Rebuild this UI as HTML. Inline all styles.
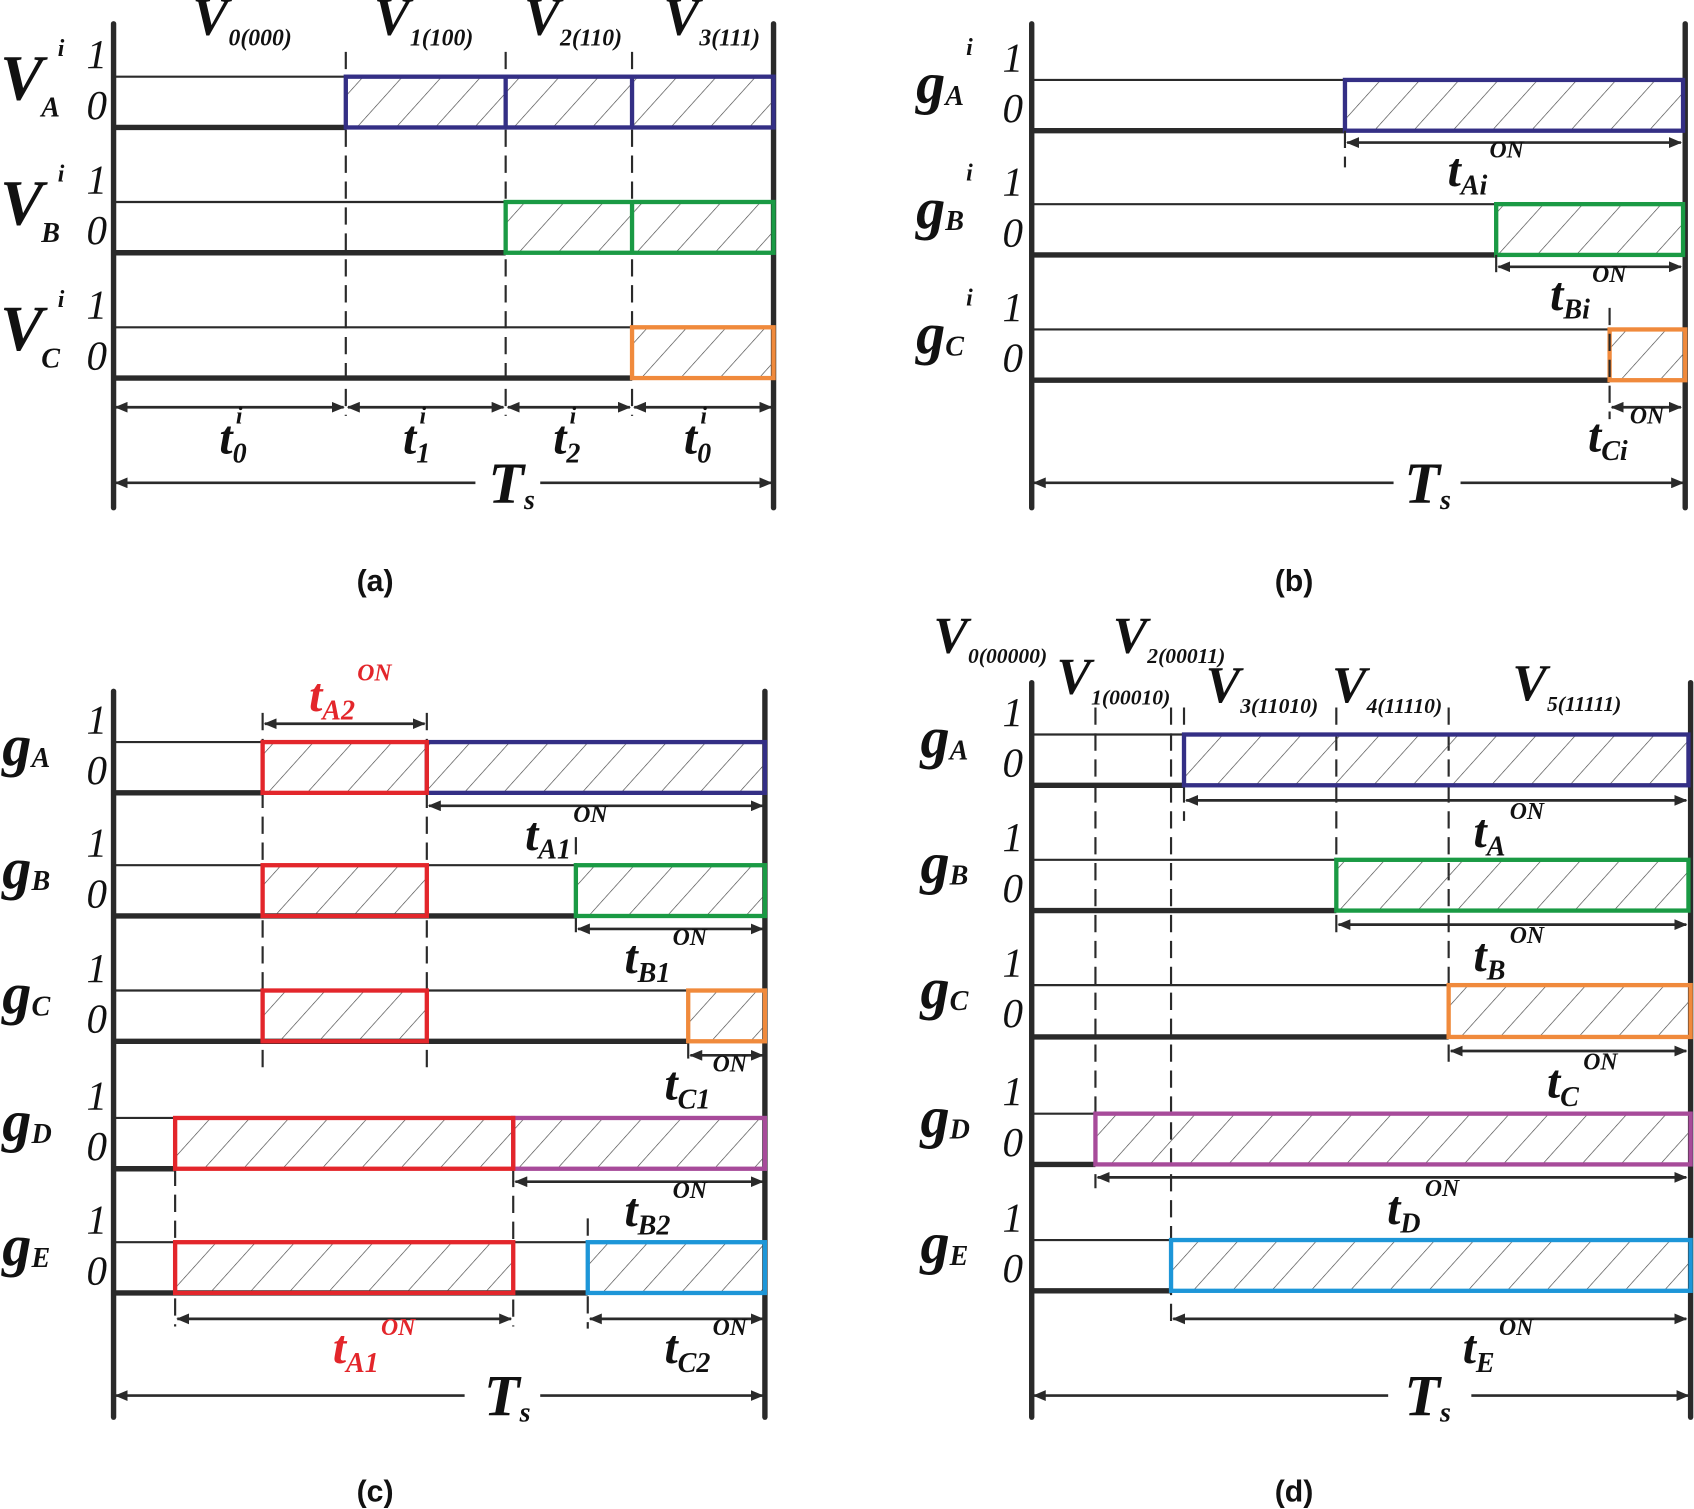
<!DOCTYPE html>
<html><head><meta charset="utf-8"><style>
html,body{margin:0;padding:0;background:#fff}
svg{display:block}
text{font-family:"Liberation Serif",serif;font-style:italic;font-weight:bold;fill:#111}
.n{font-weight:normal;font-size:38px}
.big{font-size:54px}
.vv{font-size:60px}
.sub{font-size:26px}
.sup{font-size:22px}
.cap{font-family:"Liberation Sans",sans-serif;font-style:normal;font-weight:bold;font-size:28px}
.ax{stroke:#2a2a2a;stroke-width:5;stroke-linecap:round}
.hi{stroke:#2a2a2a;stroke-width:2}
.lo{stroke:#2a2a2a;stroke-width:5}
.ds{stroke:#2a2a2a;stroke-width:2;stroke-dasharray:16,8}
.ar{stroke:#2a2a2a;stroke-width:2.5;marker-start:url(#ms);marker-end:url(#me)}
.bx{fill:url(#h);stroke-width:4}
</style></head><body>
<svg width="1694" height="1509" viewBox="0 0 1568 1397" xmlns="http://www.w3.org/2000/svg">
<defs>
<pattern id="h" patternUnits="userSpaceOnUse" width="27" height="27" patternTransform="rotate(42)"><line x1="0" y1="0" x2="0" y2="27" stroke="#444" stroke-width="1.2"/></pattern>
<marker id="me" markerWidth="12" markerHeight="10" refX="11" refY="5" orient="auto" markerUnits="userSpaceOnUse"><path d="M0,0 L12,5 L0,10 z" fill="#2a2a2a"/></marker>
<marker id="ms" markerWidth="12" markerHeight="10" refX="1" refY="5" orient="auto" markerUnits="userSpaceOnUse"><path d="M12,0 L0,5 L12,10 z" fill="#2a2a2a"/></marker>
</defs>

<!-- ===== (a) ===== -->
<line class="ax" x1="105" y1="22" x2="105" y2="470"/><line class="ax" x1="716" y1="22" x2="716" y2="470"/>
<line class="ds" x1="320" y1="48" x2="320" y2="385"/><line class="ds" x1="468" y1="48" x2="468" y2="385"/><line class="ds" x1="585" y1="48" x2="585" y2="385"/>
<line class="hi" x1="105" y1="71" x2="320" y2="71"/><line class="lo" x1="105" y1="118" x2="320" y2="118"/>
<rect class="bx" x="320" y="71" width="396" height="47" stroke="#342f85"/><line x1="468" y1="71" x2="468" y2="118" stroke="#342f85" stroke-width="4"/><line x1="585" y1="71" x2="585" y2="118" stroke="#342f85" stroke-width="4"/>
<line class="hi" x1="105" y1="187" x2="468" y2="187"/><line class="lo" x1="105" y1="234" x2="468" y2="234"/>
<rect class="bx" x="468" y="187" width="248" height="47" stroke="#1a9a44"/><line x1="585" y1="187" x2="585" y2="234" stroke="#1a9a44" stroke-width="4"/>
<line class="hi" x1="105" y1="303" x2="585" y2="303"/><line class="lo" x1="105" y1="350" x2="585" y2="350"/>
<rect class="bx" x="585" y="303" width="131" height="47" stroke="#f08a3c"/>
<line class="ar" x1="107" y1="377" x2="318" y2="377"/><line class="ar" x1="322" y1="377" x2="466" y2="377"/><line class="ar" x1="470" y1="377" x2="583" y2="377"/><line class="ar" x1="587" y1="377" x2="714" y2="377"/>
<line class="ar" x1="107" y1="447" x2="440" y2="447" style="marker-end:none"/><line class="ar" x1="500" y1="447" x2="714" y2="447" style="marker-start:none"/>
<text x="452" y="465" class="big">T<tspan class="sub" dy="6">s</tspan></text>
<text x="203" y="420" class="big" style="font-size:44px">t<tspan class="sub" dy="8">0</tspan><tspan class="sup" dx="-10" dy="-36">i</tspan></text>
<text x="373" y="420" class="big" style="font-size:44px">t<tspan class="sub" dy="8">1</tspan><tspan class="sup" dx="-10" dy="-36">i</tspan></text>
<text x="512" y="420" class="big" style="font-size:44px">t<tspan class="sub" dy="8">2</tspan><tspan class="sup" dx="-10" dy="-36">i</tspan></text>
<text x="633" y="420" class="big" style="font-size:44px">t<tspan class="sub" dy="8">0</tspan><tspan class="sup" dx="-10" dy="-36">i</tspan></text>
<text x="178" y="32" class="vv" style="font-size:50px">V<tspan class="sub" style="font-size:22px" dy="10">0(000)</tspan></text>
<text x="346" y="32" class="vv" style="font-size:50px">V<tspan class="sub" style="font-size:22px" dy="10">1(100)</tspan></text>
<text x="485" y="32" class="vv" style="font-size:50px">V<tspan class="sub" style="font-size:22px" dy="10">2(110)</tspan></text>
<text x="614" y="32" class="vv" style="font-size:50px">V<tspan class="sub" style="font-size:22px" dy="10">3(111)</tspan></text>
<text x="0" y="92" class="vv">V<tspan class="sub" dx="-2" dy="16">A</tspan><tspan class="sup" dx="-2" dy="-56">i</tspan></text>
<text x="0" y="208" class="vv">V<tspan class="sub" dx="-2" dy="16">B</tspan><tspan class="sup" dx="-2" dy="-56">i</tspan></text>
<text x="0" y="324" class="vv">V<tspan class="sub" dx="-2" dy="16">C</tspan><tspan class="sup" dx="-2" dy="-56">i</tspan></text>
<text class="n" x="80" y="63">1</text><text class="n" x="80" y="110">0</text>
<text class="n" x="80" y="179">1</text><text class="n" x="80" y="226">0</text>
<text class="n" x="80" y="295">1</text><text class="n" x="80" y="342">0</text>
<text class="cap" x="330" y="547">(a)</text>

<!-- ===== (b) ===== -->
<line class="ax" x1="955" y1="22" x2="955" y2="470"/><line class="ax" x1="1560" y1="22" x2="1560" y2="470"/>
<line class="hi" x1="955" y1="74" x2="1245" y2="74"/><line class="lo" x1="955" y1="121" x2="1245" y2="121"/>
<rect class="bx" x="1245" y="74" width="313" height="47" stroke="#342f85"/>
<line class="hi" x1="955" y1="189" x2="1385" y2="189"/><line class="lo" x1="955" y1="236" x2="1385" y2="236"/>
<rect class="bx" x="1385" y="189" width="173" height="47" stroke="#1a9a44"/>
<line class="hi" x1="955" y1="305" x2="1490" y2="305"/><line class="lo" x1="955" y1="352" x2="1490" y2="352"/>
<rect class="bx" x="1490" y="305" width="70" height="47" stroke="#f08a3c"/>
<line class="ds" x1="1245" y1="121" x2="1245" y2="155"/><line class="ds" x1="1385" y1="236" x2="1385" y2="258"/><line class="ds" x1="1490" y1="285" x2="1490" y2="388"/>
<line class="ar" x1="1247" y1="132" x2="1556" y2="132"/><line class="ar" x1="1387" y1="247" x2="1556" y2="247"/><line class="ar" x1="1492" y1="377" x2="1556" y2="377"/>
<text x="1340" y="172" class="big" style="font-size:44px">t<tspan class="sub" dy="8">Ai</tspan><tspan class="sup" dx="2" dy="-34">ON</tspan></text>
<text x="1435" y="287" class="big" style="font-size:44px">t<tspan class="sub" dy="8">Bi</tspan><tspan class="sup" dx="2" dy="-34">ON</tspan></text>
<text x="1470" y="418" class="big" style="font-size:44px">t<tspan class="sub" dy="8">Ci</tspan><tspan class="sup" dx="2" dy="-34">ON</tspan></text>
<line class="ar" x1="957" y1="447" x2="1290" y2="447" style="marker-end:none"/><line class="ar" x1="1352" y1="447" x2="1558" y2="447" style="marker-start:none"/>
<text x="1300" y="465" class="big">T<tspan class="sub" dy="6">s</tspan></text>
<text x="848" y="95" class="big">g<tspan class="sub" dy="2">A</tspan><tspan class="sup" dx="2" dy="-46">i</tspan></text>
<text x="848" y="211" class="big">g<tspan class="sub" dy="2">B</tspan><tspan class="sup" dx="2" dy="-46">i</tspan></text>
<text x="848" y="327" class="big">g<tspan class="sub" dy="2">C</tspan><tspan class="sup" dx="2" dy="-46">i</tspan></text>
<text class="n" x="928" y="66">1</text><text class="n" x="928" y="113">0</text>
<text class="n" x="928" y="181">1</text><text class="n" x="928" y="228">0</text>
<text class="n" x="928" y="297">1</text><text class="n" x="928" y="344">0</text>
<text class="cap" x="1180" y="547">(b)</text>

<!-- ===== (c) ===== -->
<line class="ax" x1="105" y1="640" x2="105" y2="1312"/><line class="ax" x1="708" y1="640" x2="708" y2="1312"/>
<line class="ds" x1="243" y1="660" x2="243" y2="990"/><line class="ds" x1="395" y1="660" x2="395" y2="990"/>
<line class="ds" x1="162" y1="1082" x2="162" y2="1228"/><line class="ds" x1="475" y1="1035" x2="475" y2="1228"/><line class="ds" x1="544" y1="1128" x2="544" y2="1230"/><line class="ds" x1="533" y1="775" x2="533" y2="865"/><line class="ds" x1="637" y1="964" x2="637" y2="985"/>
<line class="hi" x1="105" y1="687" x2="243" y2="687"/><line class="lo" x1="105" y1="734" x2="243" y2="734"/>
<rect class="bx" x="395" y="687" width="313" height="47" stroke="#342f85"/><rect class="bx" x="243" y="687" width="152" height="47" stroke="#e3262b"/>
<line class="hi" x1="105" y1="801" x2="533" y2="801"/><line class="lo" x1="105" y1="848" x2="533" y2="848"/>
<rect class="bx" x="243" y="801" width="152" height="47" stroke="#e3262b"/><rect class="bx" x="533" y="801" width="175" height="47" stroke="#1a9a44"/>
<line class="hi" x1="105" y1="917" x2="637" y2="917"/><line class="lo" x1="105" y1="964" x2="637" y2="964"/>
<rect class="bx" x="243" y="917" width="152" height="47" stroke="#e3262b"/><rect class="bx" x="637" y="917" width="71" height="47" stroke="#f08a3c"/>
<line class="hi" x1="105" y1="1035" x2="162" y2="1035"/><line class="lo" x1="105" y1="1082" x2="162" y2="1082"/>
<rect class="bx" x="475" y="1035" width="233" height="47" stroke="#a74b9a"/><rect class="bx" x="162" y="1035" width="313" height="47" stroke="#e3262b"/>
<line class="hi" x1="105" y1="1150" x2="544" y2="1150"/><line class="lo" x1="105" y1="1197" x2="544" y2="1197"/>
<rect class="bx" x="162" y="1150" width="313" height="47" stroke="#e3262b"/><rect class="bx" x="544" y="1150" width="164" height="47" stroke="#1d96d8"/>
<line class="ar" x1="245" y1="670" x2="393" y2="670"/><line class="ar" x1="397" y1="746" x2="706" y2="746"/><line class="ar" x1="535" y1="860" x2="706" y2="860"/><line class="ar" x1="639" y1="977" x2="706" y2="977"/><line class="ar" x1="477" y1="1094" x2="706" y2="1094"/><line class="ar" x1="164" y1="1221" x2="473" y2="1221"/><line class="ar" x1="546" y1="1221" x2="706" y2="1221"/>
<line class="ar" x1="107" y1="1292" x2="430" y2="1292" style="marker-end:none"/><line class="ar" x1="500" y1="1292" x2="706" y2="1292" style="marker-start:none"/>
<text x="448" y="1310" class="big">T<tspan class="sub" dy="6">s</tspan></text>
<text x="286" y="658" class="big" style="font-size:44px;fill:#e3262b">t<tspan class="sub" dy="8" style="fill:#e3262b">A2</tspan><tspan class="sup" dx="2" dy="-36" style="fill:#e3262b">ON</tspan></text>
<text x="486" y="787" class="big" style="font-size:44px">t<tspan class="sub" dy="8">A1</tspan><tspan class="sup" dx="2" dy="-34">ON</tspan></text>
<text x="578" y="901" class="big" style="font-size:44px">t<tspan class="sub" dy="8">B1</tspan><tspan class="sup" dx="2" dy="-34">ON</tspan></text>
<text x="615" y="1018" class="big" style="font-size:44px">t<tspan class="sub" dy="8">C1</tspan><tspan class="sup" dx="2" dy="-34">ON</tspan></text>
<text x="578" y="1135" class="big" style="font-size:44px">t<tspan class="sub" dy="8">B2</tspan><tspan class="sup" dx="2" dy="-34">ON</tspan></text>
<text x="308" y="1262" class="big" style="font-size:44px;fill:#e3262b">t<tspan class="sub" dy="8" style="fill:#e3262b">A1</tspan><tspan class="sup" dx="2" dy="-34" style="fill:#e3262b">ON</tspan></text>
<text x="615" y="1262" class="big" style="font-size:44px">t<tspan class="sub" dy="8">C2</tspan><tspan class="sup" dx="2" dy="-34">ON</tspan></text>
<text x="2" y="708" class="big">g<tspan class="sub" dy="2">A</tspan></text>
<text x="2" y="822" class="big">g<tspan class="sub" dy="2">B</tspan></text>
<text x="2" y="938" class="big">g<tspan class="sub" dy="2">C</tspan></text>
<text x="2" y="1056" class="big">g<tspan class="sub" dy="2">D</tspan></text>
<text x="2" y="1171" class="big">g<tspan class="sub" dy="2">E</tspan></text>
<text class="n" x="80" y="679">1</text><text class="n" x="80" y="726">0</text>
<text class="n" x="80" y="793">1</text><text class="n" x="80" y="840">0</text>
<text class="n" x="80" y="909">1</text><text class="n" x="80" y="956">0</text>
<text class="n" x="80" y="1027">1</text><text class="n" x="80" y="1074">0</text>
<text class="n" x="80" y="1142">1</text><text class="n" x="80" y="1189">0</text>
<text class="cap" x="330" y="1390">(c)</text>

<!-- ===== (d) ===== -->
<line class="ax" x1="955" y1="632" x2="955" y2="1312"/><line class="ax" x1="1565" y1="632" x2="1565" y2="1312"/>
<line class="ds" x1="1014" y1="655" x2="1014" y2="1100"/><line class="ds" x1="1084" y1="655" x2="1084" y2="1230"/><line class="ds" x1="1096" y1="655" x2="1096" y2="760"/><line class="ds" x1="1237" y1="655" x2="1237" y2="870"/><line class="ds" x1="1341" y1="655" x2="1341" y2="985"/>
<line class="hi" x1="955" y1="680" x2="1096" y2="680"/><line class="lo" x1="955" y1="727" x2="1096" y2="727"/>
<rect class="bx" x="1096" y="680" width="467" height="47" stroke="#342f85"/>
<line class="hi" x1="955" y1="796" x2="1237" y2="796"/><line class="lo" x1="955" y1="843" x2="1237" y2="843"/>
<rect class="bx" x="1237" y="796" width="326" height="47" stroke="#1a9a44"/>
<line class="hi" x1="955" y1="912" x2="1341" y2="912"/><line class="lo" x1="955" y1="960" x2="1341" y2="960"/>
<rect class="bx" x="1341" y="912" width="224" height="48" stroke="#f08a3c"/>
<line class="hi" x1="955" y1="1031" x2="1014" y2="1031"/><line class="lo" x1="955" y1="1078" x2="1014" y2="1078"/>
<rect class="bx" x="1014" y="1031" width="551" height="47" stroke="#a74b9a"/>
<line class="hi" x1="955" y1="1148" x2="1084" y2="1148"/><line class="lo" x1="955" y1="1195" x2="1084" y2="1195"/>
<rect class="bx" x="1084" y="1148" width="481" height="47" stroke="#1d96d8"/>
<line class="ar" x1="1098" y1="741" x2="1561" y2="741"/><line class="ar" x1="1239" y1="856" x2="1561" y2="856"/><line class="ar" x1="1343" y1="973" x2="1561" y2="973"/><line class="ar" x1="1016" y1="1090" x2="1561" y2="1090"/><line class="ar" x1="1086" y1="1221" x2="1561" y2="1221"/>
<line class="ar" x1="957" y1="1292" x2="1285" y2="1292" style="marker-end:none"/><line class="ar" x1="1362" y1="1292" x2="1563" y2="1292" style="marker-start:none"/>
<text x="1300" y="1310" class="big">T<tspan class="sub" dy="6">s</tspan></text>
<text x="1364" y="784" class="big" style="font-size:44px">t<tspan class="sub" dy="8">A</tspan><tspan class="sup" dx="4" dy="-34">ON</tspan></text>
<text x="1364" y="899" class="big" style="font-size:44px">t<tspan class="sub" dy="8">B</tspan><tspan class="sup" dx="4" dy="-34">ON</tspan></text>
<text x="1432" y="1016" class="big" style="font-size:44px">t<tspan class="sub" dy="8">C</tspan><tspan class="sup" dx="4" dy="-34">ON</tspan></text>
<text x="1284" y="1133" class="big" style="font-size:44px">t<tspan class="sub" dy="8">D</tspan><tspan class="sup" dx="4" dy="-34">ON</tspan></text>
<text x="1354" y="1262" class="big" style="font-size:44px">t<tspan class="sub" dy="8">E</tspan><tspan class="sup" dx="4" dy="-34">ON</tspan></text>
<text x="864" y="604" class="vv" style="font-size:48px">V<tspan class="sub" style="font-size:20px" dy="10">0(00000)</tspan></text>
<text x="1030" y="604" class="vv" style="font-size:48px">V<tspan class="sub" style="font-size:20px" dy="10">2(00011)</tspan></text>
<text x="978" y="642" class="vv" style="font-size:48px">V<tspan class="sub" style="font-size:20px" dy="10">1(00010)</tspan></text>
<text x="1116" y="650" class="vv" style="font-size:48px">V<tspan class="sub" style="font-size:20px" dy="10">3(11010)</tspan></text>
<text x="1233" y="650" class="vv" style="font-size:48px">V<tspan class="sub" style="font-size:20px" dy="10">4(11110)</tspan></text>
<text x="1400" y="648" class="vv" style="font-size:48px">V<tspan class="sub" style="font-size:20px" dy="10">5(11111)</tspan></text>
<text x="852" y="701" class="big">g<tspan class="sub" dy="2">A</tspan></text>
<text x="852" y="817" class="big">g<tspan class="sub" dy="2">B</tspan></text>
<text x="852" y="933" class="big">g<tspan class="sub" dy="2">C</tspan></text>
<text x="852" y="1052" class="big">g<tspan class="sub" dy="2">D</tspan></text>
<text x="852" y="1169" class="big">g<tspan class="sub" dy="2">E</tspan></text>
<text class="n" x="928" y="672">1</text><text class="n" x="928" y="719">0</text>
<text class="n" x="928" y="788">1</text><text class="n" x="928" y="835">0</text>
<text class="n" x="928" y="904">1</text><text class="n" x="928" y="951">0</text>
<text class="n" x="928" y="1023">1</text><text class="n" x="928" y="1070">0</text>
<text class="n" x="928" y="1140">1</text><text class="n" x="928" y="1187">0</text>
<text class="cap" x="1180" y="1390">(d)</text>
</svg>
</body></html>
